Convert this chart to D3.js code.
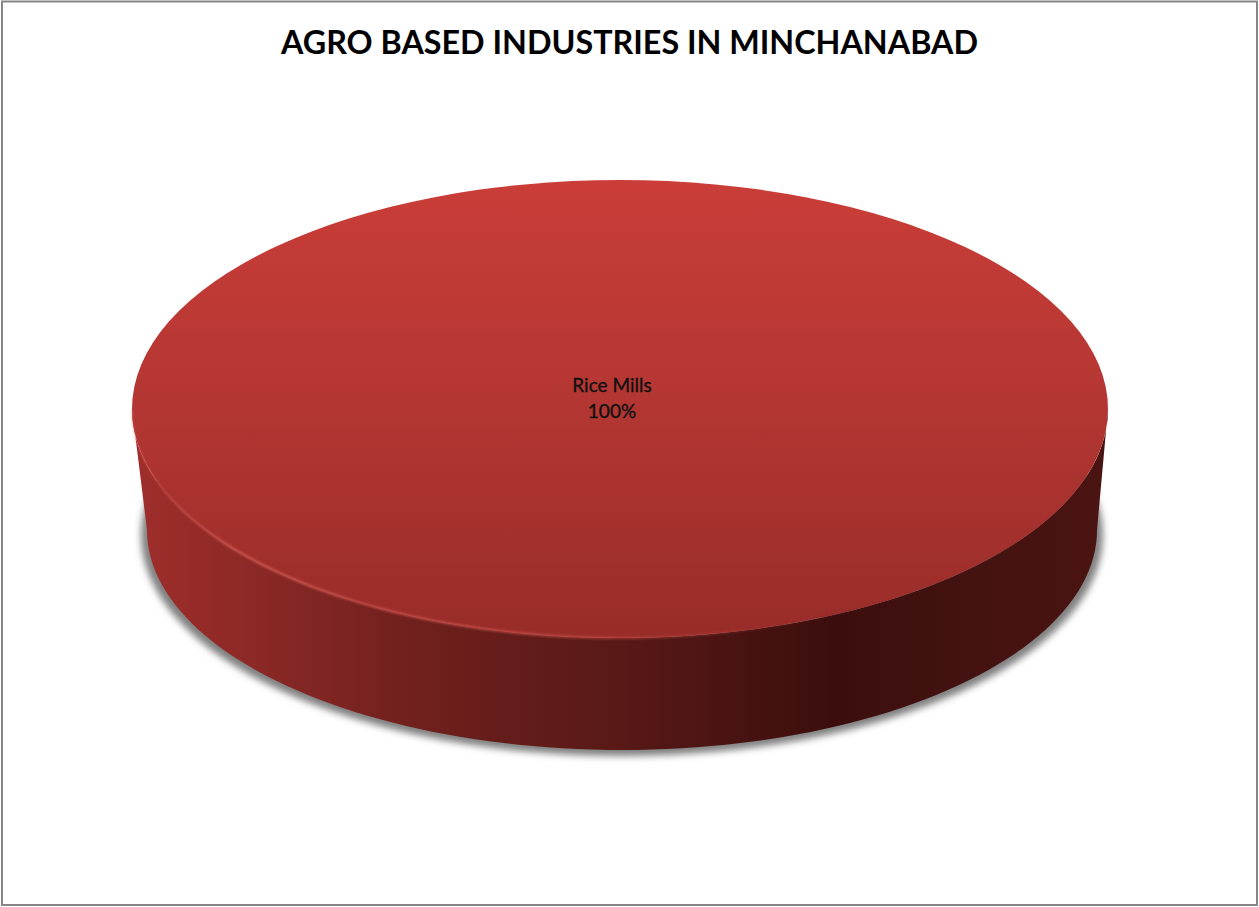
<!DOCTYPE html>
<html><head><meta charset="utf-8">
<script src="https://cdn.jsdelivr.net/npm/d3@7"></script>
<style>html,body{margin:0;padding:0;background:#fff;overflow:hidden}svg{display:block}</style>
</head><body>
<script>
const titleText = "AGRO BASED INDUSTRIES IN MINCHANABAD";
const categories = ["Rice Mills"];
const values = [100];

const W = 1259, H = 907;
const svg = d3.select("body").append("svg").attr("width", W).attr("height", H);
const defs = svg.append("defs");

const face = {cx: 620, cy: 409, rx: 488, ry: 229};
const base = {cx: 622, cy: 530, rx: 475, ry: 220};

function linGrad(id, horizontal, stops) {
  const g = defs.append("linearGradient").attr("id", id)
    .attr("x1", 0).attr("y1", 0)
    .attr("x2", horizontal ? 1 : 0).attr("y2", horizontal ? 0 : 1);
  stops.forEach(([o, c, a]) => g.append("stop").attr("offset", o).attr("stop-color", c).attr("stop-opacity", a === undefined ? 1 : a));
}
linGrad("topFill", false, [[0, "#ca3d38"], [0.5, "#b33632"], [1, "#982c29"]]);
linGrad("sideFill", true, [[0, "#a02e2b"], [0.12, "#8c2926"], [0.3, "#6e201c"], [0.5, "#581917"], [0.72, "#3b0e0d"], [0.85, "#431211"], [1, "#4a1412"]]);
linGrad("rim", true, [[0, "#d9534e", 0.25], [0.1, "#e0605a", 0.85], [0.45, "#d9534e", 0.75], [0.62, "#c9453f", 0.25], [0.75, "#a32e2a", 0]]);

const blur = defs.append("filter").attr("id", "shadow").attr("x", "-5%").attr("y", "-5%").attr("width", "110%").attr("height", "110%");
blur.append("feGaussianBlur").attr("stdDeviation", 3.5);
const soft = defs.append("filter").attr("id", "soft").attr("x", "-2%").attr("y", "-5%").attr("width", "104%").attr("height", "110%");
soft.append("feGaussianBlur").attr("stdDeviation", 0.8);

// frame
svg.append("rect").attr("x", 2).attr("y", 1.5).attr("width", W - 4).attr("height", 903.5)
  .attr("fill", "#fff").attr("stroke", "#868686").attr("stroke-width", 2);

// title
svg.append("text").attr("x", 629.5).attr("y", 54).attr("text-anchor", "middle")
  .attr("font-family", "Lato, sans-serif").attr("font-weight", 700)
  .attr("font-size", 33).attr("fill", "#000")
  .attr("textLength", 697).attr("lengthAdjust", "spacingAndGlyphs").text(titleText);

// pie through the library: angles from d3.pie, outlines through d3.arc / d3.line
const pie = d3.pie().sort(null).value(d => d)(values);
const unit = 100;
const arc = d3.arc().innerRadius(0).outerRadius(unit);
const angle = d3.scaleLinear().domain([0, 100]).range([Math.PI / 2, 3 * Math.PI / 2]);
const samples = d3.range(0, 101);
const pt = (e, a) => [e.cx + e.rx * Math.sin(a), e.cy - e.ry * Math.cos(a)];
const lineGen = d3.line().x(d => d[0]).y(d => d[1]);
const outline = [
  ...samples.map(d => pt(face, angle(d))),
  ...samples.slice().reverse().map(d => pt(base, angle(d)))
];

// shadow under the base
const shadowGroup = svg.append("g").attr("filter", "url(#shadow)");
shadowGroup.append("g")
  .attr("transform", `translate(${base.cx},${base.cy + 5}) scale(${(base.rx + 6) / unit},${(base.ry + 1) / unit})`)
  .selectAll("path").data(pie).join("path")
  .attr("d", arc).attr("fill", "#6a6a6a").attr("fill-opacity", 0.85);

// side wall
svg.append("path").attr("d", lineGen(outline) + "Z").attr("fill", "url(#sideFill)");

// top surface
const g = svg.append("g").attr("transform", `translate(${face.cx},${face.cy}) scale(${face.rx / unit},${face.ry / unit})`);
g.selectAll("path.slice").data(pie).join("path").attr("class", "slice")
  .attr("d", arc).attr("fill", "url(#topFill)");

// lit rim along the front edge
svg.append("path").attr("d", lineGen(samples.map(d => pt(face, angle(d))))).attr("fill", "none")
  .attr("stroke", "url(#rim)").attr("stroke-width", 2).attr("filter", "url(#soft)");

// label
const label = svg.append("text").attr("text-anchor", "middle")
  .attr("font-family", "Lato, sans-serif").attr("font-size", 19).attr("font-weight", 400)
  .attr("fill", "#111").attr("stroke", "#111").attr("stroke-width", 0.35);
label.append("tspan").attr("x", 612).attr("y", 392).text(categories[0]);
label.append("tspan").attr("x", 612).attr("y", 418).text(values[0] + "%");
</script>
</body></html>
